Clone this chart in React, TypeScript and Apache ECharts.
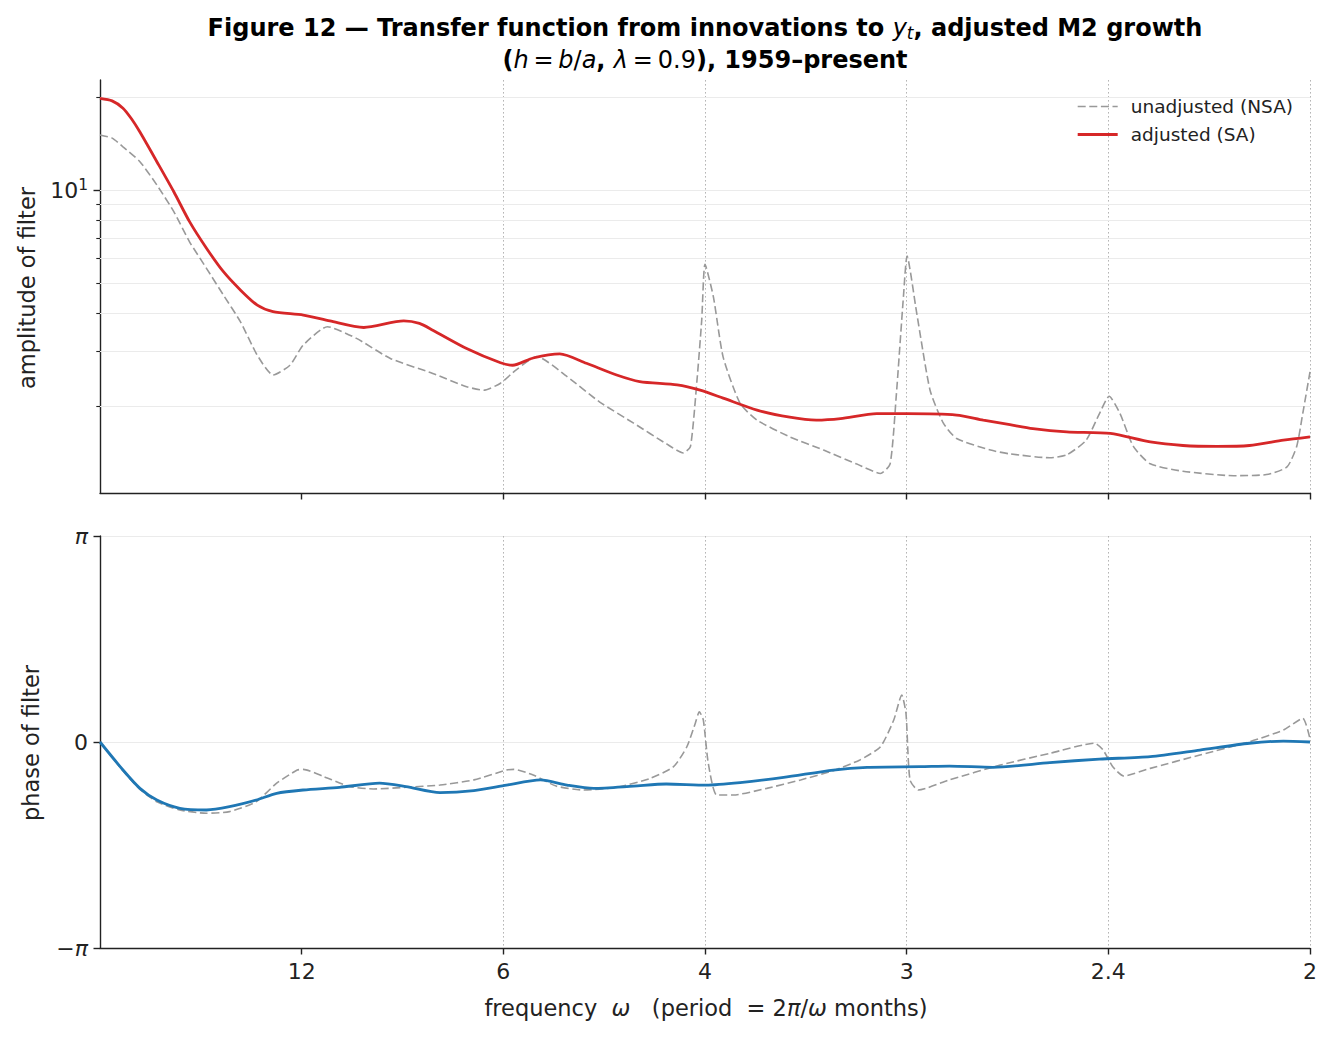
import React, { useEffect, useRef } from "react";
import * as echarts from "echarts";

// x values are omega / pi (0 .. 1)
const nsaAmpFreq = [0, 0.01, 0.019, 0.033, 0.047, 0.061, 0.074, 0.088, 0.102, 0.116, 0.13, 0.143, 0.157, 0.168, 0.188, 0.212, 0.24, 0.275, 0.303, 0.317, 0.331, 0.344, 0.361, 0.386, 0.413, 0.441, 0.468, 0.482, 0.488, 0.4934, 0.4973, 0.5, 0.5069, 0.515, 0.529, 0.543, 0.57, 0.598, 0.625, 0.645, 0.653, 0.658, 0.664, 0.667, 0.675, 0.686, 0.697, 0.708, 0.736, 0.752, 0.785, 0.799, 0.815, 0.826, 0.834, 0.843, 0.854, 0.868, 0.895, 0.937, 0.964, 0.981, 0.989, 0.994, 1.0];
const nsaAmp = [15.07, 14.72, 13.8, 12.35, 10.38, 8.51, 6.8, 5.58, 4.57, 3.75, 2.92, 2.52, 2.71, 3.15, 3.61, 3.31, 2.85, 2.55, 2.31, 2.25, 2.37, 2.62, 2.89, 2.49, 2.06, 1.76, 1.51, 1.41, 1.48, 2.43, 3.8, 5.75, 4.52, 2.88, 2.04, 1.8, 1.59, 1.44, 1.3, 1.21, 1.3, 2.14, 4.52, 6.11, 3.99, 2.25, 1.76, 1.57, 1.44, 1.4, 1.36, 1.39, 1.55, 1.89, 2.15, 1.89, 1.48, 1.3, 1.23, 1.19, 1.2, 1.27, 1.48, 1.89, 2.58];

const saAmpFreq = [0, 0.01, 0.019, 0.026, 0.033, 0.047, 0.061, 0.074, 0.088, 0.102, 0.116, 0.13, 0.143, 0.168, 0.19, 0.218, 0.251, 0.264, 0.275, 0.303, 0.331, 0.341, 0.358, 0.38, 0.402, 0.427, 0.446, 0.477, 0.496, 0.515, 0.543, 0.57, 0.592, 0.612, 0.642, 0.667, 0.708, 0.73, 0.752, 0.771, 0.799, 0.835, 0.868, 0.895, 0.923, 0.95, 0.978, 1.0];
const saAmp = [19.8, 19.43, 18.4, 17.0, 15.4, 12.35, 9.87, 7.9, 6.48, 5.44, 4.75, 4.24, 4.04, 3.94, 3.77, 3.59, 3.77, 3.7, 3.52, 3.07, 2.76, 2.71, 2.86, 2.95, 2.75, 2.52, 2.4, 2.34, 2.25, 2.12, 1.94, 1.84, 1.8, 1.82, 1.89, 1.89, 1.87, 1.8, 1.74, 1.69, 1.65, 1.63, 1.53, 1.49, 1.48, 1.49, 1.55, 1.59];

// phase values are phase / pi
const nsaPhaseFreq = [0, 0.019, 0.033, 0.047, 0.066, 0.088, 0.107, 0.129, 0.146, 0.163, 0.168, 0.185, 0.207, 0.226, 0.253, 0.281, 0.309, 0.336, 0.342, 0.358, 0.377, 0.399, 0.427, 0.455, 0.474, 0.485, 0.492, 0.4953, 0.4986, 0.5027, 0.5097, 0.5235, 0.551, 0.579, 0.606, 0.628, 0.645, 0.656, 0.6626, 0.6661, 0.6694, 0.6763, 0.702, 0.744, 0.785, 0.822, 0.829, 0.837, 0.846, 0.868, 0.909, 0.95, 0.978, 0.994, 1.0];
const nsaPhase = [0, -0.14, -0.23, -0.29, -0.33, -0.346, -0.338, -0.29, -0.2, -0.136, -0.133, -0.168, -0.217, -0.228, -0.22, -0.209, -0.184, -0.136, -0.133, -0.16, -0.214, -0.233, -0.22, -0.176, -0.12, -0.023, 0.091, 0.147, 0.107, -0.103, -0.257, -0.257, -0.225, -0.184, -0.139, -0.087, -0.023, 0.107, 0.228, 0.139, -0.184, -0.233, -0.184, -0.112, -0.055, -0.006, -0.039, -0.12, -0.165, -0.128, -0.063, 0.001, 0.058, 0.115, 0.015];

const saPhaseFreq = [0, 0.019, 0.033, 0.047, 0.066, 0.088, 0.107, 0.129, 0.146, 0.168, 0.198, 0.231, 0.253, 0.281, 0.309, 0.336, 0.364, 0.386, 0.408, 0.441, 0.468, 0.501, 0.529, 0.565, 0.606, 0.634, 0.678, 0.702, 0.738, 0.785, 0.826, 0.868, 0.909, 0.95, 0.978, 1.0];
const saPhase = [0, -0.136, -0.225, -0.282, -0.322, -0.33, -0.314, -0.282, -0.249, -0.233, -0.22, -0.2, -0.217, -0.246, -0.236, -0.209, -0.184, -0.209, -0.225, -0.214, -0.204, -0.209, -0.197, -0.172, -0.136, -0.123, -0.12, -0.117, -0.123, -0.1, -0.083, -0.071, -0.039, -0.006, 0.004, 0.0];

const periodTicks = [12, 6, 4, 3, 2.4, 2];
const ampMajorTicks = [10];
const ampMinorTicks = [2, 3, 4, 5, 6, 7, 8, 9, 20];
const ampGridValues = [2, 3, 4, 5, 6, 7, 8, 9, 10, 20];

const FONT = "'DejaVu Sans', 'Noto Sans', sans-serif";
const INK = "#222222";
const GRID_H = "#ebebeb";
const GRID_V = "#b5b5b5";
const TICK_FS = 22;
const LABEL_FS = 22.5;

const zip = (xs: number[], ys: number[]) => xs.map((x, i) => [x, ys[i]]);
const freqTicks = periodTicks.map((p) => 2 / p);

function periodLabel(v: number): string {
  for (const p of periodTicks) {
    if (Math.abs(2 / p - v) < 1e-3) return String(p);
  }
  return "";
}

export default function App() {
  const ref = useRef<HTMLDivElement>(null);

  useEffect(() => {
    document.body.style.margin = "0";
    if (!ref.current) return;
    const chart = echarts.init(ref.current, undefined, { renderer: "svg" });

    const xAxisBase = (gridIndex: number, showLabels: boolean) => ({
      type: "value",
      gridIndex,
      min: 0,
      max: 1,
      interval: 1 / 6,
      axisLine: { show: true, onZero: false, lineStyle: { color: INK, width: 1.4 } },
      axisTick: { show: true, customValues: freqTicks, length: 6.5, lineStyle: { color: INK, width: 1.4 } },
      axisLabel: {
        show: showLabels,
        customValues: freqTicks,
        margin: 12,
        fontFamily: FONT,
        fontSize: TICK_FS,
        color: INK,
        showMinLabel: true,
        showMaxLabel: true,
        formatter: (v: number) => periodLabel(v),
      },
      splitLine: { show: true, showMinLine: false, lineStyle: { color: GRID_V, width: 1, type: [1.6, 2.4] } },
    });

    const option: any = {
      animation: false,
      backgroundColor: "#ffffff",
      textStyle: { fontFamily: FONT },
      grid: [
        { left: 100, top: 80, width: 1210, height: 413, containLabel: false },
        { left: 100, top: 536, width: 1210, height: 412, containLabel: false },
      ],
      legend: {
        data: ["unadjusted (NSA)", "adjusted (SA)"],
        orient: "vertical",
        right: 39,
        top: 97,
        padding: 0,
        itemWidth: 40,
        itemHeight: 14,
        itemGap: 9,
        align: "left",
        itemStyle: { opacity: 0, borderWidth: 0 },
        lineStyle: { width: "inherit" },
        textStyle: { fontFamily: FONT, fontSize: 18.5, color: INK, padding: [0, 0, 0, 8] },
      },
      xAxis: [xAxisBase(0, false), xAxisBase(1, true)],
      yAxis: [
        {
          type: "log",
          logBase: 10,
          gridIndex: 0,
          min: 1.046,
          max: 22.7,
          axisLine: { show: true, onZero: false, lineStyle: { color: INK, width: 1.4 } },
          axisTick: { show: true, customValues: ampMajorTicks, length: 6.5, lineStyle: { color: INK, width: 1.4 } },
          axisLabel: {
            show: true,
            customValues: ampMajorTicks,
            margin: 12,
            formatter: () => "{n|10}{s|1}",
            rich: {
              n: { fontFamily: FONT, fontSize: TICK_FS, color: INK },
              s: { fontFamily: FONT, fontSize: 15.5, color: INK, padding: [0, 0, 11, 0] },
            },
          },
          splitLine: { show: false },
        },
        {
          type: "log",
          logBase: 10,
          gridIndex: 0,
          min: 1.046,
          max: 22.7,
          position: "left",
          axisLine: { show: false, onZero: false },
          axisTick: { show: true, customValues: ampMinorTicks, length: 3.7, lineStyle: { color: INK, width: 1.1 } },
          axisLabel: { show: false },
          splitLine: { show: false },
        },
        {
          type: "value",
          gridIndex: 1,
          min: -1,
          max: 1,
          interval: 1,
          axisLine: { show: true, onZero: false, lineStyle: { color: INK, width: 1.4 } },
          axisTick: { show: true, length: 6.5, lineStyle: { color: INK, width: 1.4 } },
          axisLabel: {
            margin: 12,
            showMinLabel: true,
            showMaxLabel: true,
            formatter: (v: number) => (v > 0.5 ? "{i|π}" : v < -0.5 ? "{r|−}{i|π}" : "{r|0}"),
            rich: {
              r: { fontFamily: FONT, fontSize: TICK_FS, color: INK },
              i: { fontFamily: FONT, fontSize: TICK_FS, color: INK, fontStyle: "italic" },
            },
          },
          splitLine: { show: true, showMinLine: false, lineStyle: { color: GRID_H, width: 1.2 } },
        },
      ],
      series: [
        {
          type: "line",
          xAxisIndex: 0,
          yAxisIndex: 0,
          data: [],
          silent: true,
          markLine: {
            silent: true,
            z: 1,
            symbol: "none",
            label: { show: false },
            lineStyle: { color: GRID_H, width: 1.2, type: "solid" },
            data: ampGridValues.map((v) => ({ yAxis: v })),
          },
        },
        {
          name: "unadjusted (NSA)",
          type: "line",
          xAxisIndex: 0,
          yAxisIndex: 0,
          data: zip(nsaAmpFreq, nsaAmp),
          showSymbol: false,
          symbol: "none",
          smooth: 0.2,
          z: 3,
          itemStyle: { color: "#999999" },
          lineStyle: { color: "#999999", width: 1.6, type: [8, 3.6] },
        },
        {
          name: "adjusted (SA)",
          type: "line",
          xAxisIndex: 0,
          yAxisIndex: 0,
          data: zip(saAmpFreq, saAmp),
          showSymbol: false,
          symbol: "none",
          smooth: 0.25,
          z: 4,
          itemStyle: { color: "#d62728" },
          lineStyle: { color: "#d62728", width: 2.8 },
        },
        {
          name: "unadjusted phase",
          type: "line",
          xAxisIndex: 1,
          yAxisIndex: 2,
          data: zip(nsaPhaseFreq, nsaPhase),
          showSymbol: false,
          symbol: "none",
          smooth: 0.2,
          z: 3,
          itemStyle: { color: "#999999" },
          lineStyle: { color: "#999999", width: 1.6, type: [8, 3.6] },
        },
        {
          name: "adjusted phase",
          type: "line",
          xAxisIndex: 1,
          yAxisIndex: 2,
          data: zip(saPhaseFreq, saPhase),
          showSymbol: false,
          symbol: "none",
          smooth: 0.25,
          z: 4,
          itemStyle: { color: "#1f77b4" },
          lineStyle: { color: "#1f77b4", width: 2.8 },
        },
      ],
      graphic: [
        {
          type: "text",
          x: 705,
          y: 28,
          style: {
            text: "{b|Figure 12 — Transfer function from innovations to }{i|y}{sub|t}{b|, adjusted M2 growth}",
            align: "center",
            verticalAlign: "middle",
            rich: {
              b: { fontFamily: FONT, fontSize: 24, fontWeight: "bold", fill: "#000" },
              i: { fontFamily: FONT, fontSize: 24, fontStyle: "italic", fill: "#000" },
              sub: { fontFamily: FONT, fontSize: 17, fontStyle: "italic", fill: "#000", padding: [9, 0, 0, 0] },
            },
          },
        },
        {
          type: "text",
          x: 705,
          y: 60,
          style: {
            text: "{b|(}{i|h}{r|\u2009=\u2009}{i|b}{r|/}{i|a}{b|, }{i|λ}{r|\u2009=\u20090.9}{b|), 1959–present}",
            align: "center",
            verticalAlign: "middle",
            rich: {
              b: { fontFamily: FONT, fontSize: 24, fontWeight: "bold", fill: "#000" },
              i: { fontFamily: FONT, fontSize: 24, fontStyle: "italic", fill: "#000" },
              r: { fontFamily: FONT, fontSize: 24, fill: "#000" },
            },
          },
        },
        {
          type: "text",
          x: 27,
          y: 288,
          rotation: Math.PI / 2,
          style: {
            text: "amplitude of filter",
            fontFamily: FONT,
            fontSize: LABEL_FS,
            fill: INK,
            align: "center",
            verticalAlign: "middle",
          },
        },
        {
          type: "text",
          x: 31,
          y: 743,
          rotation: Math.PI / 2,
          style: {
            text: "phase of filter",
            fontFamily: FONT,
            fontSize: LABEL_FS,
            fill: INK,
            align: "center",
            verticalAlign: "middle",
          },
        },
        {
          type: "text",
          x: 706,
          y: 1008,
          style: {
            text: "{r|frequency  }{i|ω}{r|   (period  = 2}{i|π}{r|/}{i|ω}{r| months)}",
            align: "center",
            verticalAlign: "middle",
            rich: {
              r: { fontFamily: FONT, fontSize: LABEL_FS, fill: INK },
              i: { fontFamily: FONT, fontSize: LABEL_FS, fontStyle: "italic", fill: INK },
            },
          },
        },
      ],
    };

    chart.setOption(option);
    return () => chart.dispose();
  }, []);

  return <div ref={ref} style={{ width: 1332, height: 1037 }} />;
}
